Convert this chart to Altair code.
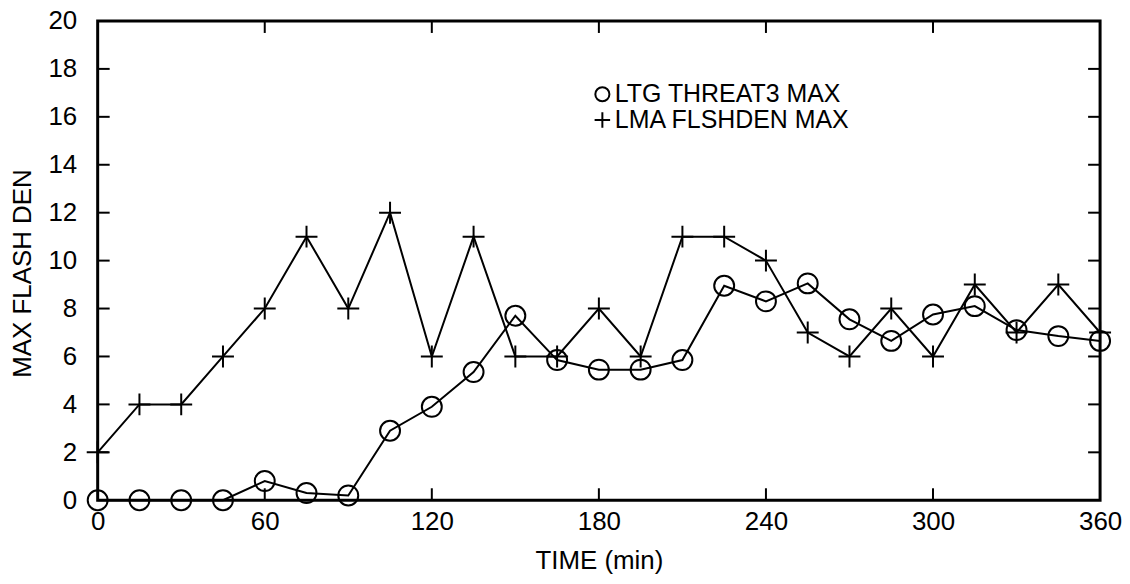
import altair as alt
import pandas as pd

# ---- data ----
times = [0, 15, 30, 45, 60, 75, 90, 105, 120, 135, 150, 165, 180,
         195, 210, 225, 240, 255, 270, 285, 300, 315, 330, 345, 360]
ltg_threat3_max = [0, 0, 0, 0, 0.8, 0.3, 0.2, 2.9, 3.9, 5.35, 7.7, 5.85, 5.45,
                   5.45, 5.85, 8.95, 8.3, 9.05, 7.55, 6.65, 7.75, 8.1, 7.1, 6.85, 6.65]
lma_flshden_max = [2, 4, 4, 6, 8, 11, 8, 12, 6, 11, 6, 6, 8,
                   6, 11, 11, 10, 7, 6, 8, 6, 9, 7, 9, 7]
series_names = ["LTG THREAT3 MAX", "LMA FLSHDEN MAX"]
y_tick_values = [0, 2, 4, 6, 8, 10, 12, 14, 16, 18, 20]
x_tick_values = [0, 60, 120, 180, 240, 300, 360]
inner_x_ticks = [60, 120, 180, 240, 300]
inner_y_ticks = [2, 4, 6, 8, 10, 12, 14, 16, 18]

FONT = "Liberation Sans"
PLUS = "M-1.1,0L1.1,0M0,-1.1L0,1.1"

df = pd.DataFrame({
    "time": times * 2,
    "value": ltg_threat3_max + lma_flshden_max,
    "series": [series_names[0]] * len(times) + [series_names[1]] * len(times),
})

x_scale = alt.Scale(domain=[0, 360], nice=False, zero=True)
y_scale = alt.Scale(domain=[0, 20], nice=False, zero=True)

x_axis = alt.Axis(values=x_tick_values, title="TIME (min)", grid=False,
                  domain=False, ticks=False, labelPadding=8,
                  labelFont=FONT, labelFontSize=26, labelColor="black",
                  titleFont=FONT, titleFontSize=26, titleFontWeight="normal",
                  titleColor="black", titleX=503, titleY=68,
                  titleBaseline="alphabetic", labelFlush=False)
y_axis = alt.Axis(values=y_tick_values, title="MAX FLASH DEN", grid=False,
                  domain=False, ticks=False, labelPadding=21,
                  labelFont=FONT, labelFontSize=26, labelColor="black",
                  titleFont=FONT, titleFontSize=26, titleFontWeight="normal",
                  titleColor="black", titleX=-67, titleY=253,
                  titleBaseline="alphabetic", titleAngle=270,
                  labelFlush=False)

x_enc = alt.X("time:Q", scale=x_scale, axis=x_axis)
y_enc = alt.Y("value:Q", scale=y_scale, axis=y_axis)

lines = alt.Chart(df).mark_line(color="black", strokeWidth=2).encode(
    x=x_enc, y=y_enc, detail="series:N"
)

points = alt.Chart(df).mark_point(filled=False, color="black", strokeWidth=2,
                                  opacity=1, size=400).encode(
    x=x_enc,
    y=y_enc,
    shape=alt.Shape("series:N",
                    scale=alt.Scale(domain=series_names, range=["circle", PLUS]),
                    sort=series_names,
                    legend=alt.Legend(title=None, orient="none", legendX=494, legendY=61,
                                      padding=0, labelFont=FONT, labelFontSize=25,
                                      labelColor="black", labelOffset=0, rowPadding=0,
                                      labelLimit=0,
                                      symbolSize=200, symbolStrokeWidth=2,
                                      symbolStrokeColor="black",
                                      symbolFillColor="transparent")),
)

# inward tick marks on all four sides of the frame
left_df = pd.DataFrame({"value": inner_y_ticks})
bottom_df = pd.DataFrame({"time": inner_x_ticks})

tick_style = dict(color="black", strokeWidth=2)
left_ticks = alt.Chart(left_df).mark_rule(**tick_style).encode(
    y=y_enc, x=alt.datum(0), x2=alt.datum(4.3))
right_ticks = alt.Chart(left_df).mark_rule(**tick_style).encode(
    y=y_enc, x=alt.datum(355.7), x2=alt.datum(360))
bottom_ticks = alt.Chart(bottom_df).mark_rule(**tick_style).encode(
    x=x_enc, y=alt.datum(0), y2=alt.datum(0.5))
top_ticks = alt.Chart(bottom_df).mark_rule(**tick_style).encode(
    x=x_enc, y=alt.datum(19.5), y2=alt.datum(20))

chart = alt.layer(lines, points, left_ticks, right_ticks, bottom_ticks, top_ticks).properties(
    width=1006, height=481,
    autosize=alt.AutoSizeParams(type="none"),
    padding={"left": 90, "top": 12, "right": 22, "bottom": 75},
    background="white",
).configure_view(stroke="black", strokeWidth=3)

chart.save("out.html", embed_options={"renderer": "svg", "actions": False})
